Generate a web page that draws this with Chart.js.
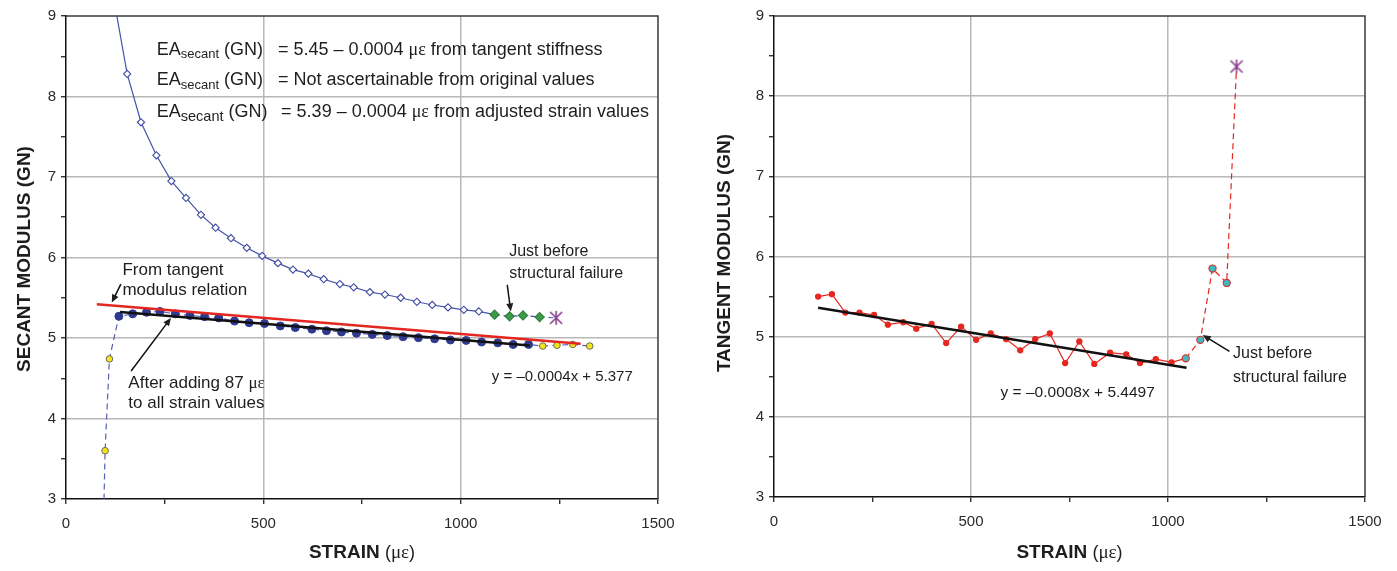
<!DOCTYPE html>
<html>
<head>
<meta charset="utf-8">
<script src="https://cdn.jsdelivr.net/npm/chart.js@4.4.1/dist/chart.umd.min.js"></script>
<style>
  body { margin: 0; background: #fff; width: 1397px; height: 571px; overflow: hidden; position: relative; }
  canvas { position: absolute; top: 0; }
  #secant { left: 0; }
  #tangent { left: 700px; }
</style>
</head>
<body>
<canvas id="secant" width="700" height="571"></canvas>
<canvas id="tangent" width="697" height="571"></canvas>
<script>
// secant modulus from the original strain readings
let origStrain = [118, 155, 190, 229, 267, 304, 342, 379, 418, 458, 497, 537, 575, 614, 653, 694, 729, 770, 808, 848, 889, 928, 968, 1008, 1046];
let origSecant = [9.3, 8.28, 7.68, 7.27, 6.95, 6.74, 6.53, 6.37, 6.24, 6.12, 6.02, 5.93, 5.85, 5.80, 5.73, 5.67, 5.63, 5.57, 5.54, 5.50, 5.45, 5.41, 5.38, 5.35, 5.33];
let origNearFailStrain = [1086, 1124, 1158, 1200];
let origNearFailSecant = [5.29, 5.27, 5.28, 5.26];
let origFailStrain = [1242];
let origFailSecant = [5.25];

// secant modulus after shifting every strain by 87 microstrain
let adjEarlyStrain = [92, 99, 110];
let adjEarlySecant = [2.0, 3.60, 4.74];
let adjStrain = [134, 169, 204, 238, 277, 314, 351, 387, 427, 464, 503, 543, 581, 623, 660, 698, 736, 776, 814, 854, 893, 934, 974, 1014, 1053, 1094, 1133, 1172];
let adjSecant = [5.27, 5.30, 5.32, 5.33, 5.30, 5.28, 5.265, 5.25, 5.21, 5.19, 5.18, 5.15, 5.13, 5.11, 5.09, 5.075, 5.06, 5.045, 5.03, 5.016, 5.004, 4.99, 4.975, 4.97, 4.95, 4.94, 4.92, 4.92];
let adjLateStrain = [1208, 1244, 1284, 1327];
let adjLateSecant = [4.90, 4.91, 4.92, 4.90];

// straight lines: [intercept, slope] and strain range
let tangentRelation = [5.45, -0.0004];
let tangentRelationRange = [78, 1304];
let secantFit = [5.377, -0.0004];
let secantFitRange = [137, 1175];

// tangent modulus
let tanStrain = [112, 147, 181, 217, 254, 289, 328, 361, 400, 437, 475, 513, 550, 589, 625, 663, 700, 739, 775, 813, 853, 894, 929, 969, 1009];
let tanValue = [5.50, 5.53, 5.30, 5.30, 5.27, 5.15, 5.18, 5.10, 5.16, 4.92, 5.125, 4.96, 5.04, 4.97, 4.83, 4.97, 5.04, 4.67, 4.94, 4.66, 4.80, 4.78, 4.67, 4.72, 4.68];
let tanNearFailStrain = [1045, 1082, 1113, 1149];
let tanNearFailValue = [4.73, 4.96, 5.85, 5.67];
let tanFailStrain = [1174];
let tanFailValue = [8.37];
let tangentFit = [5.4497, -0.0008];
let tangentFitRange = [112, 1047];

let xTicks = [0, 500, 1000, 1500];
let yTicks = [3, 4, 5, 6, 7, 8, 9];

const FONT = "Arial, 'Liberation Sans', sans-serif";
const SERIF = "'Liberation Serif', 'Times New Roman', serif";
const MU = "\u03bc\u03b5";

function pts(xs, ys) {
    return xs.map((x, i) => ({ x: x, y: ys[i] }));
}
function linePts(coef, range) {
    return range.map(x => ({ x: x, y: coef[0] + coef[1] * x }));
}

// purple failure marker: an X with a vertical stroke
function failMarker() {
    let c = document.createElement("canvas");
    c.width = 16; c.height = 16;
    let g = c.getContext("2d");
    g.strokeStyle = "#8a3f8e";
    g.lineWidth = 1.6;
    g.beginPath();
    g.moveTo(2, 2); g.lineTo(14, 14);
    g.moveTo(14, 2); g.lineTo(2, 14);
    g.moveTo(8, 1); g.lineTo(8, 15);
    g.stroke();
    return c;
}
const star = failMarker();

function drawRuns(ctx, runs, x, y) {
    let cx = x;
    runs.forEach(r => {
        ctx.font = r.font;
        ctx.fillText(r.text, cx, y + (r.dy || 0));
        cx += ctx.measureText(r.text).width;
    });
}
function runsWidth(ctx, runs) {
    let w = 0;
    runs.forEach(r => { ctx.font = r.font; w += ctx.measureText(r.text).width; });
    return w;
}

function strainTitle() {
    return [
        { text: "STRAIN ", font: "bold 19px " + FONT },
        { text: "(", font: "18px " + FONT },
        { text: MU, font: "19px " + SERIF },
        { text: ")", font: "18px " + FONT }
    ];
}

const notesPlugin = {
    id: "notes",
    beforeDatasetsDraw(chart) {
        let { ctx, chartArea: a } = chart;
        ctx.save();
        ctx.strokeStyle = "#3a3a3a";
        ctx.lineWidth = 1.5;
        ctx.beginPath();
        ctx.moveTo(a.left, a.top);
        ctx.lineTo(a.right, a.top);
        ctx.lineTo(a.right, a.bottom);
        ctx.stroke();
        ctx.restore();
    },
    afterDraw(chart, args, opts) {
        let { ctx, chartArea: a, scales } = chart;
        let sx = v => scales.x.getPixelForValue(v);
        let sy = v => scales.y.getPixelForValue(v);
        ctx.save();
        ctx.fillStyle = "#1e1e1e";
        ctx.strokeStyle = "#111";
        ctx.textBaseline = "middle";
        ctx.textAlign = "left";
        (opts.notes || []).forEach(n => {
            if (n.arrow) {
                let x0 = sx(n.arrow[0]), y0 = sy(n.arrow[1]);
                let x1 = sx(n.arrow[2]), y1 = sy(n.arrow[3]);
                let ang = Math.atan2(y1 - y0, x1 - x0);
                ctx.lineWidth = 1.5;
                ctx.beginPath();
                ctx.moveTo(x0, y0);
                ctx.lineTo(x1 - 5 * Math.cos(ang), y1 - 5 * Math.sin(ang));
                ctx.stroke();
                ctx.beginPath();
                ctx.moveTo(x1, y1);
                ctx.lineTo(x1 - 8 * Math.cos(ang) + 3.5 * Math.sin(ang), y1 - 8 * Math.sin(ang) - 3.5 * Math.cos(ang));
                ctx.lineTo(x1 - 8 * Math.cos(ang) - 3.5 * Math.sin(ang), y1 - 8 * Math.sin(ang) + 3.5 * Math.cos(ang));
                ctx.closePath();
                ctx.fill();
            } else {
                drawRuns(ctx, n.runs, sx(n.x), sy(n.y));
            }
        });

        // axis titles
        let xt = strainTitle();
        drawRuns(ctx, xt, (a.left + a.right) / 2 - runsWidth(ctx, xt) / 2, 553);
        ctx.translate(opts.yTitleX, opts.yTitleY);
        ctx.rotate(-Math.PI / 2);
        ctx.font = "bold 19px " + FONT;
        ctx.textAlign = "center";
        ctx.fillText(opts.yTitle, 0, 0);
        ctx.restore();
    }
};

function scaleOpts(axisWidth, axisHeight) {
    return {
        x: {
            type: "linear", min: 0, max: 1500,
            afterFit: s => { s.height = axisHeight; },
            ticks: {
                stepSize: 250, autoSkip: false, maxRotation: 0, padding: 11,
                color: "#2a2a2a", font: { family: FONT, size: 15 },
                callback: v => xTicks.includes(v) ? String(v) : ""
            },
            grid: {
                color: c => (c.tick && c.tick.value > 0 && c.tick.value < 1500 && c.tick.value % 500 === 0) ? "#b8b8b8" : "rgba(0,0,0,0)",
                lineWidth: 1.5, tickColor: "#111", tickLength: 5, tickWidth: 1.2
            },
            border: { color: "#111", width: 1.5 }
        },
        y: {
            type: "linear", min: 3, max: 9,
            afterFit: s => { s.width = axisWidth; },
            ticks: {
                stepSize: 0.5, autoSkip: false, padding: 5,
                color: "#2a2a2a", font: { family: FONT, size: 15 },
                callback: v => yTicks.includes(v) ? String(v) : ""
            },
            grid: {
                color: c => (c.tick && Number.isInteger(c.tick.value) && c.tick.value > 3 && c.tick.value < 9) ? "#b8b8b8" : "rgba(0,0,0,0)",
                lineWidth: 1.5, tickColor: "#111", tickLength: 5, tickWidth: 1.2
            },
            border: { color: "#111", width: 1.5 }
        }
    };
}

const base = {
    responsive: false,
    animation: false,
    events: [],
    devicePixelRatio: 1
};

// ---- secant modulus chart ----
let origAll = pts(origStrain.concat(origNearFailStrain, origFailStrain), origSecant.concat(origNearFailSecant, origFailSecant));
let nOrig = origStrain.length, nNear = origNearFailStrain.length;
let adjAll = pts(adjEarlyStrain.concat(adjStrain, adjLateStrain), adjEarlySecant.concat(adjSecant, adjLateSecant));
let nEarly = adjEarlyStrain.length, nMid = adjStrain.length;

const eqFont = "18px " + FONT;
function eaRuns(subSize) {
    return [
        { text: "EA", font: eqFont },
        { text: "secant", font: subSize + "px " + FONT, dy: 5 },
        { text: " (GN)", font: eqFont }
    ];
}

new Chart(document.getElementById("secant"), {
    type: "scatter",
    data: {
        datasets: [
            {
                data: linePts(tangentRelation, tangentRelationRange),
                showLine: true, borderColor: "#e3261f", borderWidth: 2.6, pointRadius: 0, order: 0
            },
            {
                data: linePts(secantFit, secantFitRange),
                showLine: true, borderColor: "#111", borderWidth: 2.6, pointRadius: 0, order: 1
            },
            {
                data: adjAll,
                showLine: true, borderColor: "#5662b4", borderWidth: 1.2, borderDash: [6, 4],
                pointRadius: adjAll.map((p, i) => (i < nEarly || i >= nEarly + nMid) ? 3.3 : 4),
                pointBackgroundColor: adjAll.map((p, i) => (i < nEarly || i >= nEarly + nMid) ? "#f2e41c" : "#2e3a8e"),
                pointBorderColor: adjAll.map((p, i) => (i < nEarly || i >= nEarly + nMid) ? "#6b6b5a" : "#2e3a8e"),
                pointBorderWidth: 1,
                order: 2
            },
            {
                data: origAll,
                showLine: true, borderColor: "#4653a8", borderWidth: 1.2,
                segment: { borderDash: c => c.p0DataIndex >= nOrig ? [5, 4] : undefined },
                pointStyle: origAll.map((p, i) => i < nOrig + nNear ? "rectRot" : star),
                pointRadius: origAll.map((p, i) => i < nOrig ? 3.6 : 4.6),
                pointBackgroundColor: origAll.map((p, i) => i < nOrig ? "#fff" : "#3c9b48"),
                pointBorderColor: origAll.map((p, i) => i < nOrig ? "#3d4aa3" : "#2f7c3a"),
                pointBorderWidth: 1.1,
                order: 3
            }
        ]
    },
    options: Object.assign({}, base, {
        layout: { padding: { top: 16, right: 42, left: 0, bottom: 0 } },
        scales: scaleOpts(66, 72),
        plugins: {
            legend: { display: false },
            tooltip: { enabled: false },
            notes: {
                yTitle: "SECANT MODULUS (GN)", yTitleX: 25, yTitleY: 259,
                notes: [
                    { x: 230, y: 8.58, runs: eaRuns(13) },
                    { x: 537, y: 8.58, runs: [{ text: "= 5.45 \u2013 0.0004 ", font: eqFont }, { text: MU, font: "18px " + SERIF }, { text: " from tangent stiffness", font: eqFont }] },
                    { x: 230, y: 8.205, runs: eaRuns(13) },
                    { x: 537, y: 8.205, runs: [{ text: "= Not ascertainable from original values", font: eqFont }] },
                    { x: 230, y: 7.81, runs: eaRuns(14.5) },
                    { x: 545, y: 7.81, runs: [{ text: "= 5.39 \u2013 0.0004 ", font: eqFont }, { text: MU, font: "18px " + SERIF }, { text: " from adjusted strain values", font: eqFont }] },
                    { x: 143, y: 5.845, runs: [{ text: "From tangent", font: "17px " + FONT }] },
                    { x: 143, y: 5.596, runs: [{ text: "modulus relation", font: "17px " + FONT }] },
                    { arrow: [139, 5.67, 116, 5.44] },
                    { x: 158, y: 4.437, runs: [{ text: "After adding 87 ", font: "17px " + FONT }, { text: MU, font: "17px " + SERIF }] },
                    { x: 158, y: 4.189, runs: [{ text: "to all strain values", font: "17px " + FONT }] },
                    { arrow: [165, 4.59, 266, 5.25] },
                    { x: 1123, y: 6.072, runs: [{ text: "Just before", font: "16px " + FONT }] },
                    { x: 1123, y: 5.804, runs: [{ text: "structural failure", font: "16px " + FONT }] },
                    { arrow: [1118, 5.66, 1127, 5.33] },
                    { x: 1079, y: 4.52, runs: [{ text: "y = \u20130.0004x + 5.377", font: "15px " + FONT }] }
                ]
            }
        }
    }),
    plugins: [notesPlugin]
});

// ---- tangent modulus chart ----
let tanAll = pts(tanStrain.concat(tanNearFailStrain, tanFailStrain), tanValue.concat(tanNearFailValue, tanFailValue));
let nTan = tanStrain.length, nTanNear = tanNearFailStrain.length;

new Chart(document.getElementById("tangent"), {
    type: "scatter",
    data: {
        datasets: [
            {
                data: linePts(tangentFit, tangentFitRange),
                showLine: true, borderColor: "#111", borderWidth: 2.6, pointRadius: 0, order: 0
            },
            {
                data: tanAll,
                showLine: true, borderColor: "#e5271f", borderWidth: 1.2,
                segment: { borderDash: c => c.p0DataIndex >= nTan ? [6, 4] : undefined },
                pointStyle: tanAll.map((p, i) => i < nTan + nTanNear ? "circle" : star),
                pointRadius: tanAll.map((p, i) => i < nTan ? 2.6 : (i < nTan + nTanNear ? 3.6 : 7)),
                pointBackgroundColor: tanAll.map((p, i) => i < nTan ? "#e5271f" : "#45b6c2"),
                pointBorderColor: tanAll.map((p, i) => i < nTan ? "#e5271f" : "#d8322a"),
                pointBorderWidth: 1.1,
                order: 1
            }
        ]
    },
    options: Object.assign({}, base, {
        layout: { padding: { top: 16, right: 32, left: 0, bottom: 0 } },
        scales: scaleOpts(74, 74),
        plugins: {
            legend: { display: false },
            tooltip: { enabled: false },
            notes: {
                yTitle: "TANGENT MODULUS (GN)", yTitleX: 25, yTitleY: 253,
                notes: [
                    { x: 575, y: 4.30, runs: [{ text: "y = \u20130.0008x + 5.4497", font: "15.5px " + FONT }] },
                    { x: 1165, y: 4.784, runs: [{ text: "Just before", font: "16px " + FONT }] },
                    { x: 1165, y: 4.49, runs: [{ text: "structural failure", font: "16px " + FONT }] },
                    { arrow: [1156, 4.816, 1088, 5.02] }
                ]
            }
        }
    }),
    plugins: [notesPlugin]
});
</script>
</body>
</html>
